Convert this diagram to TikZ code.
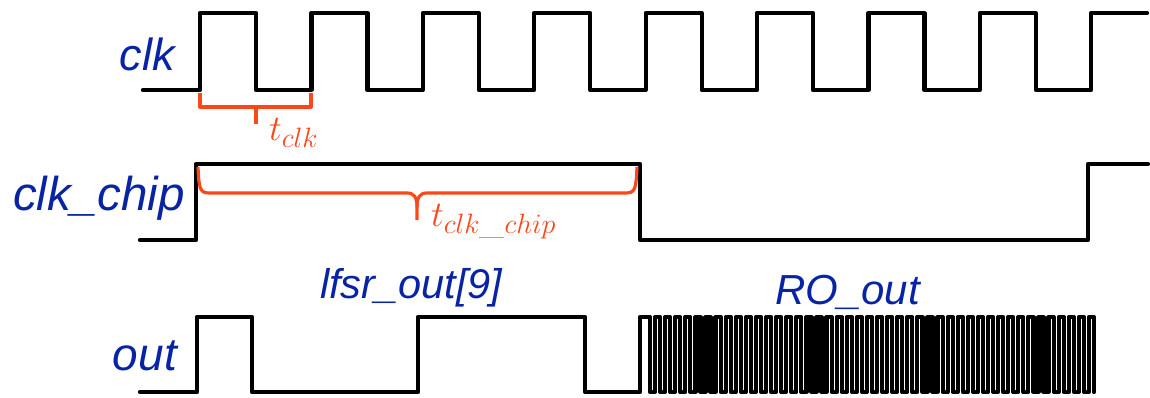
\RequirePackage{fix-cm}
\documentclass[tikz,border=0pt]{standalone}
\usepackage{fontspec}
\newfontfamily\arialfont{Liberation Sans}
\DeclareMathSizes{36}{36}{28}{22}
\definecolor{sigblue}{RGB}{8,36,164}
\definecolor{tred}{RGB}{250,72,24}
\tikzset{
  wave/.style={line width=4.2pt, line join=round, line cap=round, black},
  tbrk/.style={line width=3.2pt, tred, line join=round},
  siglab/.style={text=sigblue, font=\arialfont\itshape\fontsize{45}{50}\selectfont, inner sep=0pt},
  toplab/.style={text=sigblue, font=\arialfont\itshape\fontsize{41.5}{48}\selectfont, inner sep=0pt},
  tlab/.style={text=tred, font=\fontsize{36}{42}\selectfont, inner sep=0pt},
}
\begin{document}
\begin{tikzpicture}[x=1pt,y=-1pt]
\useasboundingbox (0,0) rectangle (1150,397);

% signal names
\node[siglab, anchor=base east] (nclk) at (175,70) {clk};
\node[siglab, anchor=base east, font=\arialfont\itshape\fontsize{47.5}{52}\selectfont] (nchip) at (185,210) {clk\_chip};
\node[siglab, anchor=base east, font=\arialfont\itshape\fontsize{46}{52}\selectfont] (nout) at (177,370) {out};
\node[toplab, anchor=base west] (nlfsr) at (320,298) {lfsr\_out[9]};
\node[toplab, anchor=base west, font=\arialfont\itshape\fontsize{42}{48}\selectfont] (nro) at (775,304) {RO\_out};

% clk
\draw[wave] (143,90)
  foreach \k in {0,...,7} {
    -- ({200+111.4*\k},90) -- ({200+111.4*\k},13)
    -- ({256+111.4*\k},13) -- ({256+111.4*\k},90)
  }
  -- (1091,90) -- (1091,13) -- (1147,13);

% clk_chip
\draw[wave] (140,240) -- (196,240) -- (196,164) -- (640,164) -- (640,240)
  -- (1088,240) -- (1088,164) -- (1148,164);

% out
\draw[wave] (140,392) -- (197,392) -- (197,317) -- (252,317) -- (252,392)
  -- (418,392) -- (418,317) -- (585,317) -- (585,392) -- (640,392)
  -- (640,317) -- (650,317) -- (650,392)
  foreach \k in {0,...,43} {
    -- ({650+10.09*(\k+0.5)},392) -- ({650+10.09*(\k+0.5)},317)
    -- ({650+10.09*(\k+1)},317) -- ({650+10.09*(\k+1)},392)
  };

% t_clk bracket
\draw[tbrk] (200,93) -- (200,107) -- (311,107) -- (311,93);
\draw[tbrk] (256,107) -- (256,124);
\node[tlab, anchor=base west] (tclk) at (269,140) {$t_{clk}$};

% t_clk_chip brace
\draw[tbrk] (198,167) .. controls (199,190) and (200,193) .. (210,193)
  -- (407,193) .. controls (414,193) and (417,197) .. (417,207) -- (417,220);
\draw[tbrk] (637,167) .. controls (636,190) and (635,193) .. (625,193)
  -- (427,193) .. controls (420,193) and (417,197) .. (417,207);
\node[tlab, anchor=base west] (tchip) at (431,226) {$t_{clk\_chip}$};
\end{tikzpicture}
\end{document}
